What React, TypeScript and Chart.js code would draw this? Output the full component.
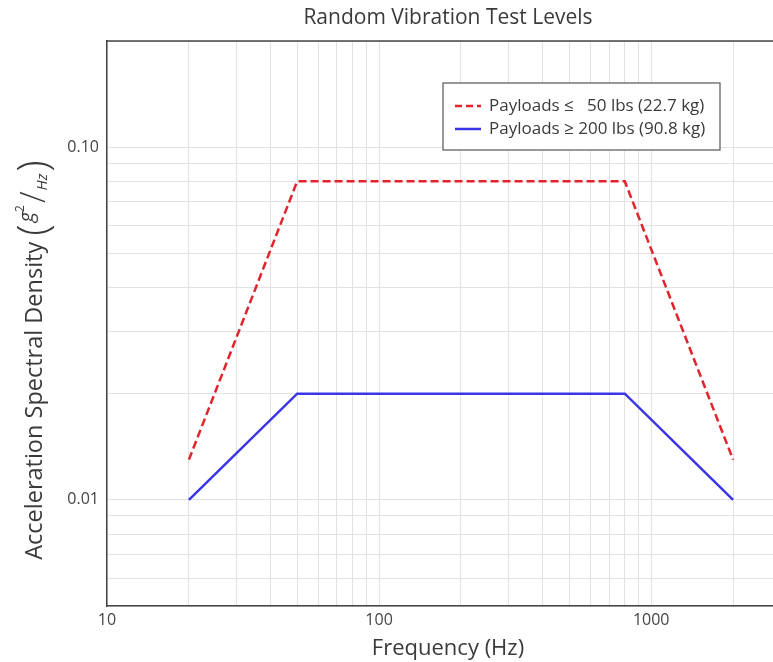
import React, { useEffect, useRef } from "react";
import { Chart, registerables } from "chart.js";

Chart.register(...registerables);

const TITLE = "Random Vibration Test Levels";
const X_TITLE = "Frequency (Hz)";
const Y_TITLE = "Acceleration Spectral Density";
const SERIES_LABELS = ["Payloads \u2264   50 lbs (22.7 kg)", "Payloads \u2265 200 lbs (90.8 kg)"];

const freqs = [20, 50, 800, 2000];
const light = [0.013, 0.08, 0.08, 0.013];
const heavy = [0.01, 0.02, 0.02, 0.01];

const X_MIN = 10;
const X_MAX = 3000;
const Y_MIN = 0.005;
const Y_MAX = 0.2;
const X_LABELS = [10, 100, 1000];
const Y_LABELS = [0.1, 0.01];

const RED = "#e3232c";
const BLUE = "#3a35e6";
const FONT = "'Open Sans', sans-serif";

function logTicks(min: number, max: number) {
  const out: { value: number }[] = [];
  for (let e = Math.floor(Math.log10(min)); e <= Math.ceil(Math.log10(max)); e++) {
    for (let m = 1; m <= 9; m++) {
      const v = parseFloat((m * Math.pow(10, e)).toPrecision(6));
      if (v >= min - 1e-12 && v <= max + 1e-12) out.push({ value: v });
    }
  }
  return out;
}

const decorPlugin = {
  id: "decor",
  afterDraw(chart: any) {
    const { ctx, chartArea } = chart;
    ctx.save();
    // top border
    ctx.strokeStyle = "#444";
    ctx.lineWidth = 1.5;
    ctx.beginPath();
    ctx.moveTo(chartArea.left, chartArea.top);
    ctx.lineTo(chartArea.right + 20, chartArea.top);
    ctx.stroke();

    // title
    ctx.fillStyle = "#3a3a3a";
    ctx.font = `21px ${FONT}`;
    ctx.textAlign = "center";
    ctx.textBaseline = "middle";
    ctx.fillText(TITLE, 448, 18);

    // x title
    ctx.font = `22px ${FONT}`;
    ctx.fillStyle = "#3a3a3a";
    ctx.fillText(X_TITLE, 448, 649);

    // y title with fraction
    ctx.translate(35, 360);
    ctx.rotate(-Math.PI / 2);
    const mainFont = `23.5px ${FONT}`;
    const parenFont = `300 42px ${FONT}`;
    const gFont = `italic 20px ${FONT}`;
    const supFont = `12px ${FONT}`;
    const slashFont = `300 34px ${FONT}`;
    const hzFont = `italic 15px ${FONT}`;
    const parts: [string, string, number, number][] = [
      [Y_TITLE, mainFont, 0, 6],
      ["(", parenFont, 0, 2],
      ["g", gFont, -8, 0],
      ["2", supFont, -14, 2],
      ["/", slashFont, 0, 1],
      ["Hz", hzFont, 8, 2],
      [")", parenFont, 0, 0],
    ];
    let total = 0;
    const widths = parts.map(([t, f, , gap]) => {
      ctx.font = f;
      const w = ctx.measureText(t).width + gap;
      total += w;
      return w;
    });
    let x = -total / 2;
    ctx.textAlign = "left";
    parts.forEach(([t, f, dy], i) => {
      ctx.font = f;
      ctx.fillText(t, x, dy);
      x += widths[i];
    });
    ctx.restore();

    // legend
    ctx.save();
    const lx = 443, ly = 83, lw = 277, lh = 67;
    ctx.fillStyle = "#fff";
    ctx.fillRect(lx, ly, lw, lh);
    ctx.strokeStyle = "#555";
    ctx.lineWidth = 1.2;
    ctx.strokeRect(lx, ly, lw, lh);
    const rows = [
      { y: 106, color: RED, dash: [7, 4], label: SERIES_LABELS[0] },
      { y: 129, color: BLUE, dash: [], label: SERIES_LABELS[1] },
    ];
    rows.forEach((r) => {
      ctx.strokeStyle = r.color;
      ctx.lineWidth = 2.5;
      ctx.setLineDash(r.dash);
      ctx.beginPath();
      ctx.moveTo(455, r.y);
      ctx.lineTo(481, r.y);
      ctx.stroke();
      ctx.setLineDash([]);
      ctx.fillStyle = "#3a3a3a";
      ctx.font = `17px ${FONT}`;
      ctx.textAlign = "left";
      ctx.textBaseline = "middle";
      ctx.fillText(r.label, 489, r.y);
    });
    ctx.restore();
  },
};

export default function App() {
  const ref = useRef<HTMLCanvasElement | null>(null);
  useEffect(() => {
    if (!ref.current) return;
    const chart = new Chart(ref.current, {
      type: "line",
      data: {
        datasets: [
          {
            label: SERIES_LABELS[0],
            data: freqs.map((f, i) => ({ x: f, y: light[i] })),
            borderColor: RED,
            borderWidth: 2.5,
            borderDash: [8, 4],
            pointRadius: 0,
            fill: false,
          },
          {
            label: SERIES_LABELS[1],
            data: freqs.map((f, i) => ({ x: f, y: heavy[i] })),
            borderColor: BLUE,
            borderWidth: 2.5,
            pointRadius: 0,
            fill: false,
          },
        ],
      },
      options: {
        responsive: false,
        animation: false,
        layout: { padding: { top: 41, right: 19, left: 0, bottom: 0 } },
        plugins: { legend: { display: false }, title: { display: false }, tooltip: { enabled: false } },
        scales: {
          x: {
            type: "logarithmic",
            min: X_MIN,
            max: X_MAX,
            afterBuildTicks: (s: any) => { s.ticks = logTicks(X_MIN, X_MAX); },
            afterFit: (s: any) => { s.height = 56; },
            ticks: {
              autoSkip: false,
              maxRotation: 0,
              padding: 5,
              color: "#444",
              font: { family: FONT, size: 16 },
              callback: (v: any) => (X_LABELS.includes(Number(v)) ? String(v) : ""),
            },
            grid: { color: "#e2e2e2", drawTicks: false, lineWidth: 1 },
            border: { color: "#444", width: 1.5 },
          },
          y: {
            type: "logarithmic",
            min: Y_MIN,
            max: Y_MAX,
            afterBuildTicks: (s: any) => { s.ticks = logTicks(Y_MIN, Y_MAX); },
            afterFit: (s: any) => { s.width = 107; },
            ticks: {
              autoSkip: false,
              padding: 8,
              color: "#444",
              font: { family: FONT, size: 16 },
              callback: (v: any) => {
                const n = Number(v);
                return Y_LABELS.some((l) => Math.abs(l - n) < 1e-9) ? n.toFixed(2) : "";
              },
            },
            grid: { color: "#e2e2e2", drawTicks: false, lineWidth: 1 },
            border: { color: "#444", width: 1.5 },
          },
        },
      },
      plugins: [decorPlugin],
    });
    return () => chart.destroy();
  }, []);
  return (
    <div style={{ position: "fixed", left: 0, top: 0, width: 773, height: 662, overflow: "hidden", background: "#fff" }}>
      <canvas ref={ref} width={800} height={662} style={{ display: "block" }} />
    </div>
  );
}
